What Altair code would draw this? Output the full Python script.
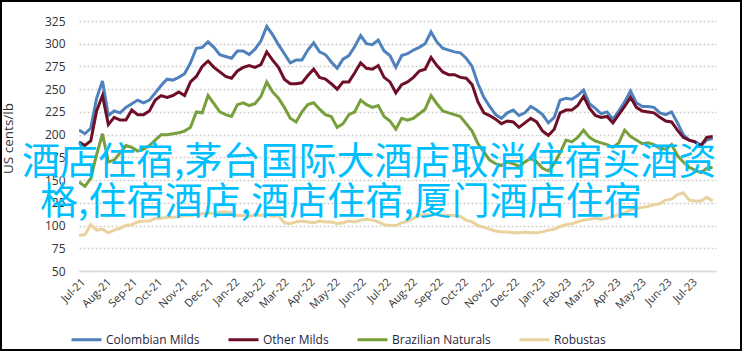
import altair as alt
import pandas as pd

series_names = ["Colombian Milds", "Other Milds", "Brazilian Naturals", "Robustas"]
series_colors = ["#4F81BD", "#6E0F27", "#77A03C", "#E9D29E"]

# weekly observations starting 1 Jul 2021
dates = pd.date_range("2021-07-01", periods=109, freq="7D")

colombian = [205, 201, 207, 240, 259, 221, 226, 224, 230, 234, 238, 235, 238, 246, 254, 261, 260, 263, 267, 279,
             295, 296, 302, 296, 288, 286, 284, 292, 292, 288, 294, 303, 319, 310, 299, 289, 279, 282, 282, 293,
             301, 291, 288, 280, 273, 283, 287, 297, 309, 300, 299, 304, 292, 287, 274, 287, 289, 293, 296, 300,
             313, 302, 295, 293, 291, 290, 284, 275, 256, 241, 231, 222, 218, 224, 227, 221, 224, 231, 227, 222,
             213, 219, 238, 240, 239, 243, 249, 234, 229, 223, 225, 217, 226, 236, 248, 235, 231, 231, 230, 224,
             222, 225, 213, 200, 194, 192, 188, 194, 196]
other_milds = [192, 188, 193, 226, 243, 211, 219, 216, 216, 227, 222, 222, 226, 238, 243, 241, 243, 247, 243, 258,
               264, 275, 281, 274, 269, 264, 262, 270, 274, 276, 274, 277, 291, 282, 274, 261, 256, 256, 257, 265,
               272, 263, 261, 256, 250, 258, 258, 268, 279, 273, 272, 276, 263, 258, 246, 255, 258, 263, 270, 272,
               285, 276, 269, 266, 266, 263, 262, 255, 236, 224, 221, 217, 212, 215, 214, 208, 213, 218, 214, 204,
               199, 206, 224, 227, 227, 232, 242, 229, 221, 219, 220, 213, 222, 231, 241, 230, 226, 225, 224, 219,
               215, 214, 205, 197, 194, 192, 188, 197, 198]
brazilian = [148, 143, 152, 178, 201, 170, 172, 180, 188, 186, 182, 184, 188, 194, 200, 200, 201, 202, 204, 208,
             225, 224, 243, 234, 225, 222, 220, 233, 235, 232, 234, 242, 258, 247, 240, 230, 218, 214, 225, 233,
             235, 228, 222, 220, 208, 212, 222, 225, 238, 233, 230, 232, 220, 215, 206, 218, 216, 218, 223, 228,
             243, 234, 226, 224, 222, 220, 212, 204, 190, 181, 172, 168, 166, 170, 168, 165, 170, 174, 170, 163,
             160, 168, 180, 194, 192, 197, 205, 197, 193, 191, 189, 186, 191, 205, 198, 194, 190, 191, 189, 185,
             184, 189, 177, 170, 164, 161, 158, 163, 164]
robustas = [89, 90, 101, 95, 96, 92, 95, 97, 100, 101, 104, 105, 105, 108, 108, 109, 109, 110, 111, 111,
            112, 113, 114, 113, 115, 115, 114, 111, 111, 110, 112, 111, 112, 110, 111, 103, 102, 104, 105, 104,
            103, 105, 104, 104, 102, 103, 105, 104, 106, 107, 106, 104, 101, 100, 100, 103, 105, 108, 111, 112,
            112, 112, 112, 111, 111, 110, 106, 104, 100, 98, 96, 94, 93, 93, 92, 92, 93, 92, 92, 93,
            95, 96, 99, 101, 102, 104, 106, 107, 108, 107, 108, 110, 112, 114, 117, 119, 120, 121, 123, 124,
            128, 129, 134, 136, 128, 127, 127, 131, 127]

y_ticks = [50, 75, 100, 125, 150, 175, 200, 225, 250, 275, 300, 325]
overlay_lines = ["酒店住宿,茅台国际大酒店取消住宿买酒资", "格,住宿酒店,酒店住宿,厦门酒店住宿"]

frames = []
for name, vals in zip(series_names, [colombian, other_milds, brazilian, robustas]):
    frames.append(pd.DataFrame({"date": dates, "value": vals, "series": name}))
df = pd.concat(frames, ignore_index=True)

FONT = "Open Sans"

lines = alt.Chart(df).mark_line(strokeWidth=3, clip=True).encode(
    x=alt.X("date:T",
            scale=alt.Scale(domain=[alt.DateTime(year=2021, month=7, date=1),
                                    alt.DateTime(year=2023, month=7, date=31)]),
            axis=alt.Axis(title=None, format="%b-%y", labelAngle=-45, labelAlign="right",
                          labelBaseline="top", tickCount={"interval": "month", "step": 1},
                          ticks=False, grid=False, domain=True, domainColor="#D9D9D9",
                          domainWidth=1.5, labelFontSize=11, labelFont=FONT,
                          labelColor="#333333", labelPadding=5, labelOverlap=False)),
    y=alt.Y("value:Q",
            scale=alt.Scale(domain=[50, 325], nice=False, zero=False),
            axis=alt.Axis(title="US cents/lb", values=y_ticks, ticks=False, domain=False,
                          grid=True, gridDash=[2, 2], gridColor="#CFCFCF", gridWidth=1.5,
                          labelFontSize=12, labelFont=FONT, labelColor="#333333", labelPadding=14,
                          titleFont=FONT, titleFontSize=13.5, titleFontWeight="normal",
                          titleColor="#333333", titleX=-71, titleY=117, titleAngle=-90,
                          titleAlign="center", titleBaseline="middle")),
    color=alt.Color("series:N",
                    scale=alt.Scale(domain=series_names, range=series_colors),
                    sort=series_names,
                    legend=alt.Legend(title=None, orient="none", legendX=-9, legendY=302,
                                      direction="horizontal", columns=4, symbolType="stroke",
                                      symbolSize=900, symbolStrokeWidth=3, labelOffset=3,
                                      columnPadding=22, labelFontSize=12, labelFont=FONT,
                                      labelColor="#1F1F3D")),
    order=alt.Order("series:N"),
)

text_df = pd.DataFrame({"t": overlay_lines, "row": [0, 1]})
txt1 = alt.Chart(text_df[text_df.row == 0]).mark_text(
    font="Noto Sans CJK SC", fontSize=38, color="#00BFFF", align="left", baseline="middle"
).encode(text="t:N", x=alt.value(-57), y=alt.value(142))
txt2 = alt.Chart(text_df[text_df.row == 1]).mark_text(
    font="Noto Sans CJK SC", fontSize=38, color="#00BFFF", align="left", baseline="middle"
).encode(text="t:N", x=alt.value(-39), y=alt.value(182))

frame = alt.Chart(pd.DataFrame({"a": [0]})).mark_rect(
    fill=None, stroke="black", strokeWidth=2
).encode(x=alt.value(-78), x2=alt.value(662), y=alt.value(-20), y2=alt.value(329))

chart = alt.layer(lines, txt1, txt2, frame).properties(
    width=637, height=250,
    autosize=alt.AutoSizeParams(type="none"),
    padding={"left": 79, "top": 21, "right": 27, "bottom": 81},
    background="white",
).configure_view(stroke=None)

chart.save("out.html", embed_options={"renderer": "svg", "actions": False})
